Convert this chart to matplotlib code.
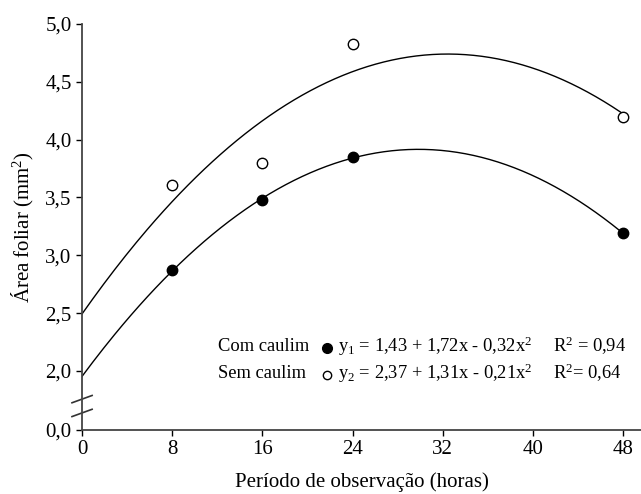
import numpy as np
import matplotlib.pyplot as plt

# Dados
horas = [8, 16, 24, 48]
com_caulim = [2.87, 3.48, 3.85, 3.19]
sem_caulim = [3.61, 3.80, 4.83, 4.20]

yticks = [2.0, 2.5, 3.0, 3.5, 4.0, 4.5, 5.0]
ytick_labels = ['2,0', '2,5', '3,0', '3,5', '4,0', '4,5', '5,0']
xticks = [0, 8, 16, 24, 32, 40, 48]

# posição do "0,0" abaixo da quebra do eixo
y_zero = 1.49

plt.rcParams['font.family'] = ['Liberation Serif', 'DejaVu Serif']
plt.rcParams['mathtext.fontset'] = 'custom'
plt.rcParams['mathtext.rm'] = 'Liberation Serif'
plt.rcParams['mathtext.it'] = 'Liberation Serif:italic'

fig = plt.figure(figsize=(6.41, 4.94), dpi=100)
ax = fig.add_axes([0.128, 0.1296, 0.872, 0.8218])

# curvas de regressão ajustadas aos pontos
xx = np.linspace(0, 48, 200)
for ys in (com_caulim, sem_caulim):
    coef = np.polyfit(horas, ys, 2)
    ax.plot(xx, np.polyval(coef, xx), color='black', lw=1.0)

ax.plot(horas, com_caulim, 'o', color='black', ms=7.5, zorder=3)
ax.plot(horas, sem_caulim, 'o', mfc='white', mec='black', mew=1.0, ms=7.5, zorder=3)

ax.set_xlim(0, 49.6)
ax.set_ylim(y_zero, 5.0)
ax.set_xticks(xticks)
ax.set_yticks([y_zero] + yticks)
ax.set_yticklabels(['0,0'] + ytick_labels)
ax.tick_params(direction='out', length=4, width=1, labelsize=15, colors='black')
for s in ('top', 'right'):
    ax.spines[s].set_visible(False)
for s in ('left', 'bottom'):
    ax.spines[s].set_color('#444444')
    ax.spines[s].set_linewidth(1.3)

ax.set_xlabel('Período de observação (horas)', fontsize=15, labelpad=9)
ax.set_ylabel('Área foliar (mm$^2$)', fontsize=15, labelpad=7)

# marcas de quebra do eixo y
for yc in (0.076, 0.042):
    ax.plot([-0.018, 0.018], [yc - 0.009, yc + 0.009], transform=ax.transAxes,
            color='#333333', lw=1.2, clip_on=False)

# legenda com equações
fs = 13.3
ax.text(12.1, 2.216, 'Com caulim', fontsize=fs, va='center')
ax.plot([21.7], [2.20], 'o', color='black', ms=7)
ax.text(22.7, 2.216, r'y$_1$ = 1,43 + 1,72x - 0,32x$^2$', fontsize=fs, va='center')
ax.text(41.8, 2.216, r'R$^2$ = 0,94', fontsize=fs, va='center')

ax.text(12.1, 1.98, 'Sem caulim', fontsize=fs, va='center')
ax.plot([21.7], [1.965], 'o', mfc='white', mec='black', mew=1.0, ms=6)
ax.text(22.7, 1.98, r'y$_2$ = 2,37 + 1,31x - 0,21x$^2$', fontsize=fs, va='center')
ax.text(41.8, 1.98, r'R$^2$= 0,64', fontsize=fs, va='center')

fig.savefig('out.png', dpi=100)
